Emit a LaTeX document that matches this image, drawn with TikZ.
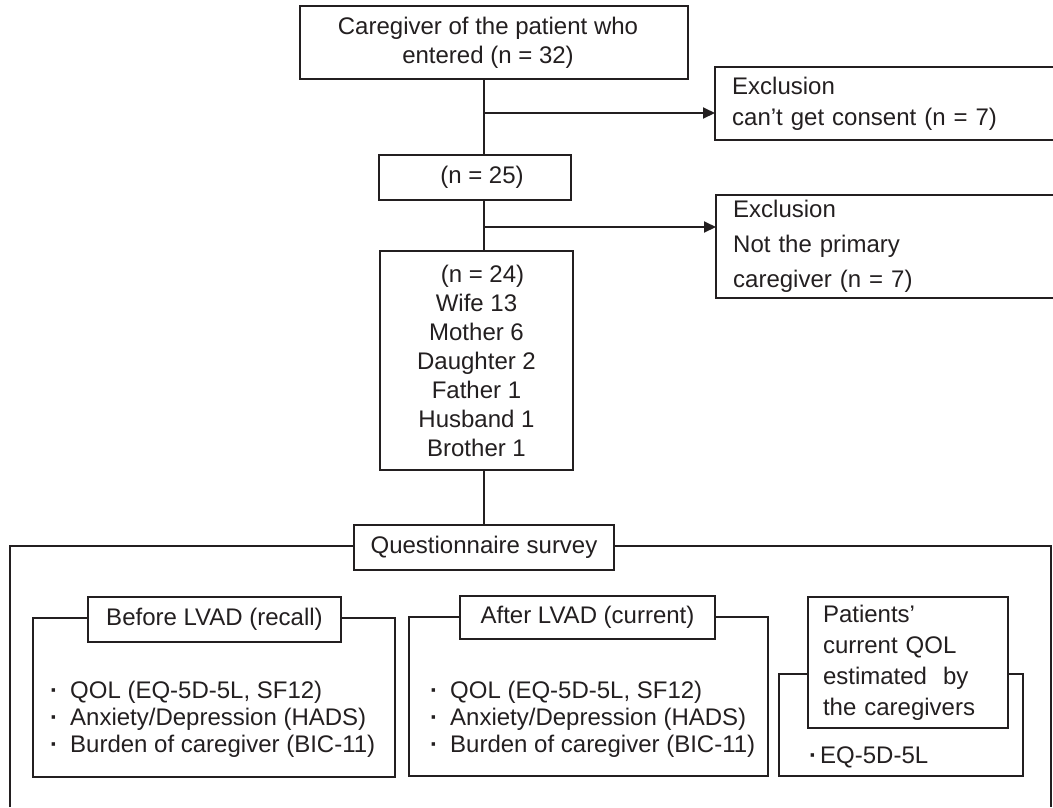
\documentclass[tikz,border=0pt]{standalone}
\usepackage{fontspec}
\setmainfont{Liberation Sans}
\usetikzlibrary{arrows.meta}
\definecolor{ink}{RGB}{35,31,32}
\newcommand{\bul}{{\bfseries ·}}
\begin{document}
\begin{tikzpicture}[x=1pt,y=-1pt,
  every node/.style={text=ink, font=\fontsize{24}{29}\selectfont},
  box/.style={draw=ink, line width=2pt, fill=white, inner sep=0pt, align=center},
  exbox/.style={inner xsep=17pt, inner ysep=0pt, minimum width=338pt, text width=304pt, align=left, anchor=north west},
  lst/.style={anchor=west, align=left, inner sep=0pt, font=\fontsize{24}{27}\selectfont},
  line/.style={draw=ink, line width=2pt},
  arr/.style={line, -{Triangle[length=12pt,width=11pt]}}]
\useasboundingbox (0,0) rectangle (1053,807);

% top part
\node[box, minimum width=388pt, minimum height=73pt] (top) at (494,42.5)
  {Caregiver of the patient who\hspace*{12pt}\\entered (n = 32)\hspace*{12pt}};
\node[box, minimum width=192pt, minimum height=45pt] (n25) at (475,177.5) {\hspace*{14pt}(n = 25)};
\node[box, minimum width=193pt, minimum height=219pt] (n24) at (476.5,360.5)
  {\hspace*{12pt}(n = 24)\\Wife 13\\Mother 6\\Daughter 2\\Father 1\\Husband 1\\Brother 1};

\node[exbox, minimum height=73pt, font=\fontsize{24}{31}\selectfont] (ex1) at (715,67)
  {Exclusion\\can’t get consent (n = 7)};
\draw[line] (ex1.north east) -- (ex1.north west) -- (ex1.south west) -- (ex1.south east);
\node[exbox, minimum height=103pt, font=\fontsize{24}{35}\selectfont] (ex2) at (716,195)
  {Exclusion\\Not the primary\\caregiver (n = 7)};
\draw[line] (ex2.north east) -- (ex2.north west) -- (ex2.south west) -- (ex2.south east);

\coordinate (v) at (484,0);
\coordinate (b1) at (484,113);
\coordinate (b2) at (484,227);

% questionnaire frame
\draw[line] (10,807) -- (10,546) -- (1051,546) -- (1051,807);
\node[box, minimum width=260pt, minimum height=45pt] (qs) at (484,547.5) {Questionnaire survey};

\draw[line] (top.south -| v) -- (n25.north -| v);
\draw[line] (n25.south -| v) -- (n24.north -| v);
\draw[line] (n24.south -| v) -- (qs.north -| v);
\draw[arr] (b1) -- (b1 -| ex1.west);
\draw[arr] (b2) -- (b2 -| ex2.west);

% before LVAD
\draw[line] (33,618) rectangle (395,777);
\node[box, minimum width=253pt, minimum height=45pt] (bef) at (214.5,619.5) {Before LVAD (recall)};
\node[lst] (bl) at (50,719)
  {\bul\hspace{12pt}QOL (EQ-5D-5L, SF12)\\\bul\hspace{12pt}Anxiety/Depression (HADS)\\\bul\hspace{12pt}Burden of caregiver (BIC-11)};

% after LVAD
\draw[line] (409,617) rectangle (768,776);
\node[box, minimum width=255pt, minimum height=43pt] (aft) at (587.5,617.5) {After LVAD (current)};
\node[lst] (al) at (430,719)
  {\bul\hspace{12pt}QOL (EQ-5D-5L, SF12)\\\bul\hspace{12pt}Anxiety/Depression (HADS)\\\bul\hspace{12pt}Burden of caregiver (BIC-11)};

% patients
\draw[line] (779,674) rectangle (1023,776);
\node[box, anchor=north west, minimum width=200pt, minimum height=131pt, inner xsep=15pt, text width=170pt, align=left,
  font=\fontsize{24}{31}\selectfont] (pat) at (807,596)
  {Patients’\\current QOL\\estimated~ by\\the caregivers};
\node[lst] (eq) at (809,757) {\bul\hspace{3pt}EQ-5D-5L};
\end{tikzpicture}
\end{document}
